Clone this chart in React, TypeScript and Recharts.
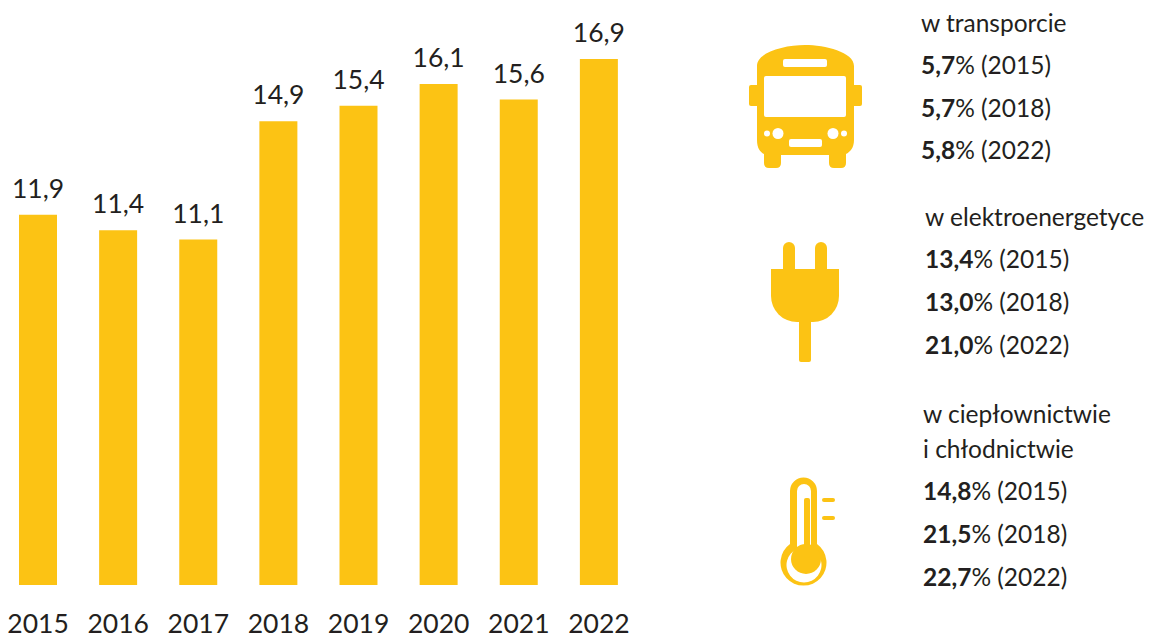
import { BarChart, Bar, XAxis, YAxis, LabelList } from 'recharts';

const years = ['2015', '2016', '2017', '2018', '2019', '2020', '2021', '2022'];
const shares = [11.9, 11.4, 11.1, 14.9, 15.4, 16.1, 15.6, 16.9];

const transportLines = [
  { value: '5,7', year: '2015' },
  { value: '5,7', year: '2018' },
  { value: '5,8', year: '2022' },
];
const powerLines = [
  { value: '13,4', year: '2015' },
  { value: '13,0', year: '2018' },
  { value: '21,0', year: '2022' },
];
const heatLines = [
  { value: '14,8', year: '2015' },
  { value: '21,5', year: '2018' },
  { value: '22,7', year: '2022' },
];

const data = years.map((year, i) => ({ year, share: shares[i] }));

const YELLOW = '#FCC314';
const INK = '#231F20';
const FONT = 'Lato, sans-serif';
const FONT_SIZE = 24.5;
const AXIS_FONT_SIZE = 26.5;

const formatComma = (value: any) => String(value).replace('.', ',');

const Panel = ({ x, titles, titleYs, lines, lineYs }: any) => (
  <g fontFamily={FONT} fontSize={FONT_SIZE} fill={INK}>
    {titles.map((t: string, i: number) => (
      <text key={t} x={x} y={titleYs[i]}>
        {t}
      </text>
    ))}
    {lines.map((l: any, i: number) => (
      <text key={l.year} x={x} y={lineYs[i]}>
        <tspan fontWeight={700}>{l.value}</tspan>% ({l.year})
      </text>
    ))}
  </g>
);

const BusIcon = () => (
  <g fill={YELLOW}>
    <path d="M757 66 C757 52 785 45 805 45 C825 45 854 52 854 66 L854 140 C854 148 850 152 846 154 L846 163 Q846 168 841 168 L834 168 Q829 168 829 163 L829 155 L781 155 L781 163 Q781 168 776 168 L769 168 Q764 168 764 163 L764 154 C760 152 757 148 757 140 Z" />
    <rect x={749} y={85} width={10} height={21} rx={2} />
    <rect x={852} y={85} width={10} height={21} rx={2} />
    <g fill="#fff">
      <rect x={764} y={76} width={82} height={41} rx={2} />
      <rect x={783} y={59} width={44} height={8} rx={2} />
      <rect x={789} y={139} width={33} height={8} rx={2} />
      <circle cx={778} cy={133.5} r={5.5} />
      <circle cx={767} cy={133.5} r={3} />
      <circle cx={833} cy={133.5} r={5.5} />
      <circle cx={844} cy={133.5} r={3} />
    </g>
  </g>
);

const PlugIcon = () => (
  <g fill={YELLOW}>
    <path d="M783 270 L783 248 A6 6 0 0 1 795 248 L795 270 Z" />
    <path d="M815 270 L815 248 A6 6 0 0 1 827 248 L827 270 Z" />
    <path d="M771 269 L839 269 L839 296 A26 26 0 0 1 813 322 L797 322 A26 26 0 0 1 771 296 Z" />
    <rect x={799} y={320} width={12} height={42} rx={2} />
  </g>
);

const ThermometerIcon = () => (
  <g>
    <path
      fill={YELLOW}
      d="M790 544 L790 491 A13.5 13.5 0 0 1 817 491 L817 544 A23 23 0 1 1 790 544 Z"
    />
    <path
      fill="#fff"
      d="M797 549 L797 491 A7 7 0 0 1 811 491 L811 549 A17.5 17.5 0 1 1 797 549 Z"
    />
    <circle cx={806} cy={559} r={15} fill={YELLOW} />
    <rect x={804} y={498} width={6} height={60} rx={2} fill={YELLOW} />
    <rect x={822} y={498} width={13} height={4} rx={2} fill={YELLOW} />
    <rect x={822} y={516} width={13} height={4} rx={2} fill={YELLOW} />
  </g>
);

export default function App() {
  return (
    <div style={{ position: 'absolute', left: 0, top: 0, width: 1150, height: 634, background: '#fff' }}>
      <BarChart
        width={1150}
        height={634}
        data={data}
        margin={{ top: 0, right: 511, left: -2, bottom: 0 }}
        barSize={38}
      >
        <XAxis
          dataKey="year"
          axisLine={false}
          tickLine={false}
          interval={0}
          height={49}
          tickMargin={23}
          tick={{ fill: INK, fontSize: AXIS_FONT_SIZE, fontFamily: FONT }}
        />
        <YAxis hide domain={[0, 18.8]} />
        <Bar dataKey="share" fill={YELLOW} isAnimationActive={false}>
          <LabelList
            dataKey="share"
            position="top"
            offset={17}
            formatter={formatComma}
            style={{ fill: INK, fontSize: AXIS_FONT_SIZE, fontFamily: FONT }}
          />
        </Bar>
      </BarChart>
      <svg width={1150} height={634} style={{ position: 'absolute', left: 0, top: 0 }}>
        <BusIcon />
        <PlugIcon />
        <ThermometerIcon />
        <Panel x={921} titles={['w transporcie']} titleYs={[32]} lines={transportLines} lineYs={[74, 117, 159]} />
        <Panel x={925} titles={['w elektroenergetyce']} titleYs={[226]} lines={powerLines} lineYs={[268, 311, 354]} />
        <Panel
          x={923}
          titles={['w ciepłownictwie', 'i chłodnictwie']}
          titleYs={[423, 458]}
          lines={heatLines}
          lineYs={[500, 543, 586]}
        />
      </svg>
    </div>
  );
}
